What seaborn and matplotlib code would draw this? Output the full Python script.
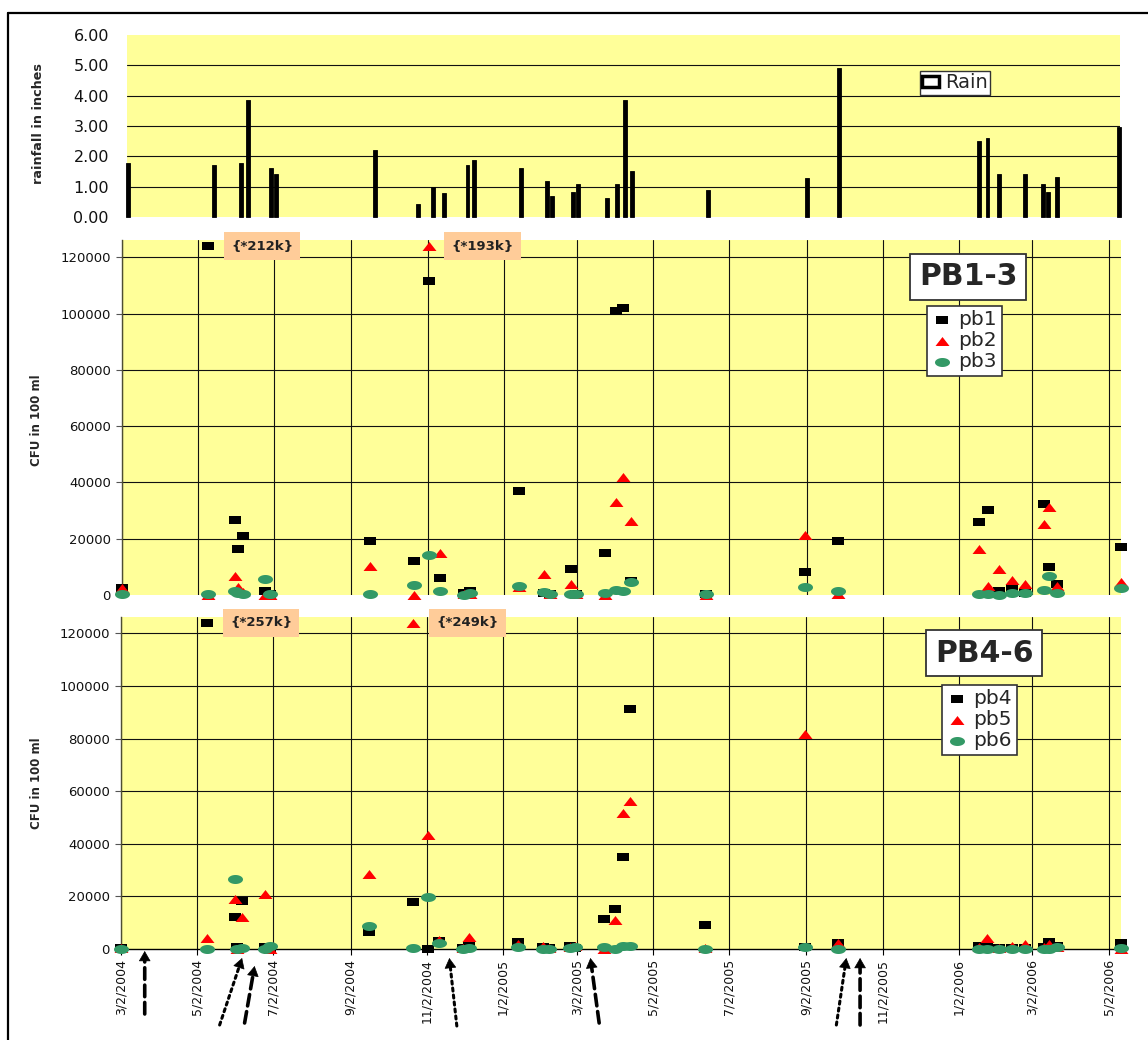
import numpy as np
import pandas as pd
import matplotlib
matplotlib.use("Agg")
import matplotlib.pyplot as plt
import matplotlib.dates as mdates
from matplotlib.patches import Patch
from matplotlib.lines import Line2D
import seaborn as sns

# ------------------------------------------------------------------ data
rain_dates = ["2004-03-02", "2004-05-10", "2004-06-01", "2004-06-07", "2004-06-25",
              "2004-06-29", "2004-09-17", "2004-10-22", "2004-11-03", "2004-11-12",
              "2004-12-01", "2004-12-06", "2005-01-13", "2005-02-03", "2005-02-07",
              "2005-02-24", "2005-02-28", "2005-03-24", "2005-04-01", "2005-04-07",
              "2005-04-13", "2005-06-13", "2005-09-01", "2005-09-27", "2006-01-18",
              "2006-01-25", "2006-02-03", "2006-02-24", "2006-03-11", "2006-03-15",
              "2006-03-22", "2006-05-11"]
rain_in = [1.77, 1.71, 1.77, 3.86, 1.62, 1.42, 2.21, 0.43, 0.99, 0.78,
           1.71, 1.87, 1.62, 1.18, 0.68, 0.82, 1.08, 0.63, 1.08, 3.86,
           1.52, 0.88, 1.27, 4.90, 2.51, 2.62, 1.42, 1.42, 1.08, 0.82,
           1.33, 2.98]

sample_dates = ["2004-03-02", "2004-05-10", "2004-06-01", "2004-06-03", "2004-06-07",
                "2004-06-25", "2004-06-29", "2004-09-17", "2004-10-22", "2004-11-03",
                "2004-11-12", "2004-12-01", "2004-12-06", "2005-01-14", "2005-02-03",
                "2005-02-08", "2005-02-25", "2005-03-01", "2005-03-24", "2005-04-02",
                "2005-04-08", "2005-04-14", "2005-06-13", "2005-09-01", "2005-09-27",
                "2006-01-18", "2006-01-25", "2006-02-03", "2006-02-14", "2006-02-24",
                "2006-03-11", "2006-03-15", "2006-03-22", "2006-05-12"]

pb1 = [2600, 212000, 26800, 16200, 21000, 1400, 300, 19200, 12000, 111800,
       6150, 600, 1400, 37100, 800, 500, 9100, 300, 14900, 101100,
       101900, 5000, 300, 8200, 19300, 25900, 30300, 1400, 2600, 600,
       32500, 10000, 3800, 17000]
pb2 = [2500, 0, 6800, 3000, 1200, 0, 0, 10300, 0, 193000,
       15100, 300, 500, 2800, 7300, 500, 3800, 200, 0, 33100,
       42000, 26300, 0, 21400, 500, 16300, 3200, 9100, 5300, 3800,
       25400, 31300, 3200, 4700]
pb3 = [200, 300, 1500, 800, 300, 5700, 500, 350, 3500, 14100,
       1500, 100, 800, 3200, 1200, 200, 200, 200, 600, 1800,
       1500, 4500, 300, 3000, 1400, 200, 200, 0, 600, 600,
       1800, 6700, 800, 2600]
pb4 = [200, 257000, 12000, 900, 18100, 600, 300, 6300, 17700, 0,
       3200, 400, 1300, 2500, 900, 300, 1300, 300, 11400, 15200,
       34900, 91300, 9300, 900, 2100, 1300, 1000, 300, 300, 500,
       900, 2800, 1300, 2100]
pb5 = [300, 4000, 19000, 0, 12300, 20900, 0, 28500, 249000, 43500,
       3500, 300, 4400, 1900, 1300, 300, 900, 1000, 0, 11000,
       51700, 56200, 500, 81800, 2100, 800, 4000, 500, 1300, 1900,
       900, 1900, 600, 0]
pb6 = [0, 0, 26600, 0, 200, 0, 1300, 8900, 400, 19900,
       2100, 0, 300, 600, 100, 0, 400, 600, 600, 0,
       1300, 1300, 0, 600, 0, 0, 100, 100, 0, 0,
       0, 0, 600, 300]

tick_dates = ["2004-03-02", "2004-05-02", "2004-07-02", "2004-09-02", "2004-11-02",
              "2005-01-02", "2005-03-02", "2005-05-02", "2005-07-02", "2005-09-02",
              "2005-11-02", "2006-01-02", "2006-03-02", "2006-05-02"]
tick_labels = ["3/2/2004", "5/2/2004", "7/2/2004", "9/2/2004", "11/2/2004",
               "1/2/2005", "3/2/2005", "5/2/2005", "7/2/2005", "9/2/2005",
               "11/2/2005", "1/2/2006", "3/2/2006", "5/2/2006"]

# ------------------------------------------------------------------ style
sns.set_style("white")
plt.rcParams["font.family"] = ["DejaVu Sans"]

W, H = 1148, 1040
YELLOW = "#FFFF99"
RED = "#FF0000"
GREEN = "#339966"
PEACH = "#FFCC99"
CAP = 124000          # values above the axis are drawn at the top edge
GRID = dict(color="#111111", linewidth=0.8)


def num(dates):
    return mdates.date2num(pd.to_datetime(dates))


def rect(left, top, right, bottom):
    return [left / W, 1 - bottom / H, (right - left) / W, (bottom - top) / H]


# marker shapes (wide, flat symbols)
sq_verts = [(-1.67, -1), (1.67, -1), (1.67, 1), (-1.67, 1), (-1.67, -1)]
tri_verts = [(-7, -4.5), (7, -4.5), (0, 4.5), (-7, -4.5)]
t = np.linspace(0, 2 * np.pi, 41)
ell_verts = list(zip(np.cos(t), 0.6 * np.sin(t)))

fig = plt.figure(figsize=(W / 100, H / 100), dpi=100)
fig.patch.set_facecolor("white")

# outer frame of the sheet (left and top edges)
fig.add_artist(Line2D([8 / W, 8 / W], [0, 1 - 13 / H], transform=fig.transFigure,
                      color="black", linewidth=1.6))
fig.add_artist(Line2D([8 / W, 1], [1 - 13 / H, 1 - 13 / H], transform=fig.transFigure,
                      color="black", linewidth=1.6))

# ------------------------------------------------------------------ rainfall
ax_r = fig.add_axes(rect(127, 35, 1120, 217))
ax_r.set_facecolor(YELLOW)
sns.barplot(x=num(rain_dates), y=rain_in, native_scale=True, width=0.8,
            color="black", edgecolor="black", linewidth=0.6, errorbar=None,
            ax=ax_r, zorder=3)
for p in ax_r.patches:
    p.set_clip_on(False)
ax_r.set_xlim(num(["2004-03-01", "2006-05-12"]))
ax_r.set_ylim(0, 6)
ax_r.set_yticks(range(7))
ax_r.set_yticklabels([f"{v:.2f}" for v in range(7)])
ax_r.set_xticks([])
ax_r.set_xlabel("")
ax_r.set_ylabel("")
ax_r.tick_params(axis="y", length=0, pad=13, labelsize=11.5, labelcolor="#111111")
ax_r.yaxis.grid(True, **GRID)
ax_r.set_axisbelow(True)
gl = ax_r.get_ygridlines()
gl[0].set_visible(False)
gl[-1].set_visible(False)
for s in ax_r.spines.values():
    s.set_visible(False)
leg_r = ax_r.legend(handles=[Patch(facecolor="white", edgecolor="black", linewidth=2.5)],
                    labels=["Rain"], loc="upper left",
                    bbox_to_anchor=(920 / W, 1 - 71 / H), bbox_transform=fig.transFigure,
                    borderaxespad=0, fancybox=False, framealpha=1, edgecolor="#333333",
                    fontsize=14, handlelength=0.85, handleheight=0.55,
                    handletextpad=0.3, borderpad=0.12)
leg_r.get_frame().set_linewidth(1.0)

fig.text(38 / W, 1 - 124 / H, "rainfall in inches", rotation=90, ha="center",
         va="center", fontsize=9.2, fontweight="bold")

# ------------------------------------------------------------------ bacteria panels
x_samples = num(sample_dates)
x_ticks = num(tick_dates)
x_lim = num(["2004-03-02", "2006-05-12"])


def bacteria_panel(box, series, names, title, title_xy, legend_xy, show_x):
    ax = fig.add_axes(box)
    ax.set_facecolor(YELLOW)
    shapes = [(sq_verts, "black", 81), (tri_verts, RED, 101), (ell_verts, GREEN, 117)]
    for vals, name, (mk, col, size) in zip(series, names, shapes):
        shown = np.minimum(np.asarray(vals, dtype=float), CAP)
        sns.scatterplot(x=x_samples, y=shown, marker=mk, s=size, color=col,
                        linewidth=0, ax=ax, label=name, clip_on=False, zorder=4)
    # labels for the values that run off the top of the axis
    for vals in series:
        for xv, v in zip(x_samples, vals):
            if v > CAP:
                ax.annotate("{*%dk}" % round(v / 1000), xy=(xv, CAP),
                            xytext=(54, 0), textcoords="offset pixels",
                            ha="center", va="center", fontsize=9.5, fontweight="bold",
                            color="#222222", annotation_clip=False, zorder=6,
                            bbox=dict(boxstyle="square,pad=0.55", fc=PEACH, ec="none"))
    ax.set_xlim(x_lim)
    ax.set_ylim(0, 126200)
    ax.set_yticks(range(0, 120001, 20000))
    ax.set_yticklabels([str(v) for v in range(0, 120001, 20000)])
    ax.set_xticks(x_ticks)
    ax.set_xlabel("")
    ax.set_ylabel("")
    ax.grid(True, **GRID)
    ax.set_axisbelow(True)
    ax.get_ygridlines()[0].set_visible(False)
    ax.tick_params(axis="y", left=True, length=4, width=0.8, color="#555555",
                   pad=4, labelsize=9.5, labelcolor="#111111")
    for side in ("top", "right"):
        ax.spines[side].set_visible(False)
    ax.spines["left"].set_color("#4d4d33")
    ax.spines["left"].set_linewidth(1.0)
    if show_x:
        ax.set_xticklabels(tick_labels, rotation=90, ha="center", va="top")
        ax.tick_params(axis="x", bottom=True, length=4, width=0.8, color="black",
                       pad=3, labelsize=9, labelcolor="#111111")
        ax.spines["bottom"].set_color("black")
        ax.spines["bottom"].set_linewidth(1.0)
    else:
        ax.tick_params(axis="x", length=0, labelbottom=False)
        ax.spines["bottom"].set_visible(False)
    leg = ax.legend(loc="upper left", bbox_to_anchor=(legend_xy[0] / W, 1 - legend_xy[1] / H),
                    bbox_transform=fig.transFigure, borderaxespad=0, fancybox=False,
                    framealpha=1, edgecolor="#333333", fontsize=14.5, handlelength=1.0,
                    handletextpad=0.35, borderpad=0.22, labelspacing=0.1, scatterpoints=1)
    leg.get_frame().set_linewidth(1.2)
    fig.text(title_xy[0] / W, 1 - title_xy[1] / H, title, ha="center", va="center",
             fontsize=21.5, fontweight="bold",
             bbox=dict(boxstyle="square,pad=0.3", fc="white", ec="#333333", lw=1.3))
    return ax


ax_m = bacteria_panel(rect(122, 240, 1121, 595), [pb1, pb2, pb3], ["pb1", "pb2", "pb3"],
                      "PB1-3", (968, 277), (927, 306), show_x=False)
fig.text(36 / W, 1 - 420 / H, "CFU in 100 ml", rotation=90, ha="center",
         va="center", fontsize=8.5, fontweight="bold")

ax_b = bacteria_panel(rect(121, 617, 1121, 949), [pb4, pb5, pb6], ["pb4", "pb5", "pb6"],
                      "PB4-6", (984, 653), (942, 685), show_x=True)
fig.text(36 / W, 1 - 783 / H, "CFU in 100 ml", rotation=90, ha="center",
         va="center", fontsize=8.5, fontweight="bold")

# event arrows under the time axis: (head date, head y px, tail date, tail y px, kind)
events = [("2004-03-21", 951, "2004-03-21", 1014, "dashed"),
          ("2004-06-07", 958, "2004-05-20", 1025, "dotted"),
          ("2004-06-17", 966, "2004-06-09", 1023, "dashed"),
          ("2004-11-20", 958, "2004-11-26", 1026, "dotted"),
          ("2005-03-13", 958, "2005-03-20", 1023, "dashed"),
          ("2005-10-04", 958, "2005-09-26", 1025, "dotted"),
          ("2005-10-15", 958, "2005-10-15", 1025, "dashed")]
px_per_day = 1000 / (x_lim[1] - x_lim[0])
HEAD = 9  # arrow head length in pixels
for hd, hy, td, ty, kind in events:
    if kind == "dashed":
        ls, lw = (0, (3.2, 1.6)), 2.6
    else:
        ls, lw = (0, (1, 1.3)), 2.2
    xh, xt = num([hd])[0], num([td])[0]
    dx = (xt - xh) * px_per_day
    dy = hy - ty
    length = np.hypot(dx, dy)
    ux, uy = dx / length, dy / length
    # shaft (patterned), ending at the base of the head
    ax_b.annotate("", xy=(xh, H - hy), xytext=(xt, H - ty),
                  xycoords=("data", "figure pixels"), textcoords=("data", "figure pixels"),
                  annotation_clip=False,
                  arrowprops=dict(arrowstyle="-", linewidth=lw, linestyle=ls,
                                  color="black", shrinkA=0, shrinkB=HEAD * 0.72))
    # solid head
    ax_b.annotate("", xy=(xh, H - hy), xytext=(ux * HEAD, uy * HEAD),
                  xycoords=("data", "figure pixels"), textcoords="offset pixels",
                  annotation_clip=False,
                  arrowprops=dict(arrowstyle="-|>,head_length=0.55,head_width=0.32",
                                  mutation_scale=12, linewidth=0.5, color="black",
                                  shrinkA=0, shrinkB=0))

fig.savefig("out.png", dpi=100, facecolor="white")
